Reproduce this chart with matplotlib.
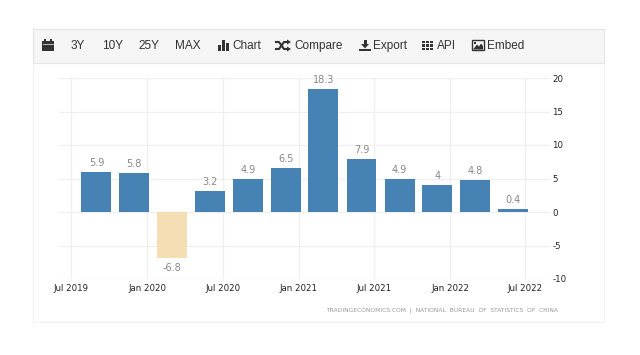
import matplotlib
matplotlib.use('Agg')
import matplotlib.pyplot as plt
import matplotlib.dates as mdates
from matplotlib.patches import Rectangle, Polygon
import pandas as pd

plt.rcParams['axes.unicode_minus'] = False

quarters = ['2019-09-01', '2019-12-01', '2020-03-01', '2020-06-01', '2020-09-01', '2020-12-01',
            '2021-03-01', '2021-06-01', '2021-09-01', '2021-12-01', '2022-03-01', '2022-06-01']
gdp = [5.9, 5.8, -6.8, 3.2, 4.9, 6.5, 18.3, 7.9, 4.9, 4, 4.8, 0.4]
xticks = ['2019-07-01', '2020-01-01', '2020-07-01', '2021-01-01', '2021-07-01', '2022-01-01', '2022-07-01']
xlabels = ['Jul 2019', 'Jan 2020', 'Jul 2020', 'Jan 2021', 'Jul 2021', 'Jan 2022', 'Jul 2022']
yticks = [-10, -5, 0, 5, 10, 15, 20]
buttons = [('3Y', 70.5), ('10Y', 102), ('25Y', 138), ('MAX', 175.5), ('Chart', 232),
           ('Compare', 294), ('Export', 373), ('API', 436.5), ('Embed', 486.5)]
source = 'TRADINGECONOMICS.COM  |  NATIONAL  BUREAU  OF  STATISTICS  OF  CHINA'

W, H = 640, 355
fig = plt.figure(figsize=(6.4, 3.55), dpi=100, facecolor='white')

# page layer in pixel coords, for panel and toolbar
bg = fig.add_axes([0, 0, 1, 1])
bg.set_xlim(0, W)
bg.set_ylim(H, 0)
bg.axis('off')
bg.add_patch(Rectangle((33, 29), 571, 293, fc='white', ec='#f2f2f2', lw=0.8))
bg.add_patch(Rectangle((33, 29), 571, 34, fc='#f5f5f5', ec='#e6e6e6', lw=0.8))
for name, px in buttons:
    bg.text(px, 46, name, family='Liberation Sans', fontsize=8.5, color='#333333', ha='left', va='center')

ic = '#333333'
# calendar
bg.add_patch(Rectangle((42, 41), 11.5, 10, fc=ic, ec='none'))
bg.add_patch(Rectangle((44, 39), 1.5, 3, fc=ic, ec='none'))
bg.add_patch(Rectangle((50, 39), 1.5, 3, fc=ic, ec='none'))
bg.plot([42.5, 53], [43.7, 43.7], color='#f5f5f5', lw=0.5)
# bars
bg.add_patch(Rectangle((218, 45), 3, 5.5, fc=ic, ec='none'))
bg.add_patch(Rectangle((222, 40), 3, 10.5, fc=ic, ec='none'))
bg.add_patch(Rectangle((226, 43), 3, 7.5, fc=ic, ec='none'))
# shuffle
bg.plot([276, 279, 284, 288], [42, 42, 49, 49], color=ic, lw=1.5)
bg.plot([276, 279, 284, 288], [49, 49, 42, 42], color=ic, lw=1.5)
bg.add_patch(Polygon([(287, 39.5), (291, 42), (287, 44.5)], fc=ic, ec='none'))
bg.add_patch(Polygon([(287, 46.5), (291, 49), (287, 51.5)], fc=ic, ec='none'))
# download
bg.add_patch(Rectangle((363.5, 39.5), 3, 5, fc=ic, ec='none'))
bg.add_patch(Polygon([(361, 44), (369, 44), (365, 48.5)], fc=ic, ec='none'))
bg.add_patch(Rectangle((359, 48.5), 12, 2.5, fc=ic, ec='none'))
# grid
for gx in [422, 426, 430]:
    for gy in [40.5, 44, 47.5]:
        bg.add_patch(Rectangle((gx, gy), 3, 2.8, fc=ic, ec='none'))
# image
bg.add_patch(Rectangle((472, 40), 11.5, 10, fc='#f5f5f5', ec=ic, lw=1))
bg.add_patch(Polygon([(473, 49.5), (477, 44.5), (479, 46.5), (481, 43.5), (483, 46), (483, 49.5)], fc=ic, ec='none'))
bg.add_patch(Rectangle((473.5, 41.5), 2, 2, fc=ic, ec='none'))

# chart axes placed on the pixel box 59..550 x 78..279
left, right, top, bottom = 59, 550, 78, 279
ax = fig.add_axes([left / W, 1 - bottom / H, (right - left) / W, (bottom - top) / H])
ax.patch.set_alpha(0)

dates = pd.to_datetime(quarters)
ticks = pd.to_datetime(xticks)
colors = ['#4682b4' if v >= 0 else '#f5deb3' for v in gdp]
ax.bar(dates, gdp, width=72, color=colors, zorder=3)

for d, v in zip(dates, gdp):
    if v >= 0:
        ax.annotate(str(v), (d, v), xytext=(0, 4), textcoords='offset pixels', ha='center', va='bottom',
                    fontsize=7, color='#888888', zorder=4)
    else:
        ax.annotate(str(v), (d, v), xytext=(0, -5), textcoords='offset pixels', ha='center', va='top',
                    fontsize=7, color='#888888', zorder=4)

x0 = mdates.date2num(ticks[0])
per_px = (mdates.date2num(ticks[-1]) - x0) / (525.3 - 70.7)
ax.set_xlim(x0 - (70.7 - left) * per_px, x0 + (right - 70.7) * per_px)
ax.set_ylim(-10, 20)
ax.set_xticks(ticks)
ax.set_xticklabels(xlabels)
ax.set_yticks(yticks)
ax.yaxis.tick_right()
ax.tick_params(axis='both', length=0, labelsize=6.2, labelcolor='#222222')
ax.tick_params(axis='x', pad=3.5)
ax.tick_params(axis='y', pad=1.5)
ax.grid(True, color='#f0f0f0', lw=1, zorder=0)
ax.set_axisbelow(True)
for s in ax.spines.values():
    s.set_visible(False)

bg.text(326, 310.5, source, fontsize=4.35, color='#999999', ha='left', va='center')

fig.savefig('out.png', dpi=100)
